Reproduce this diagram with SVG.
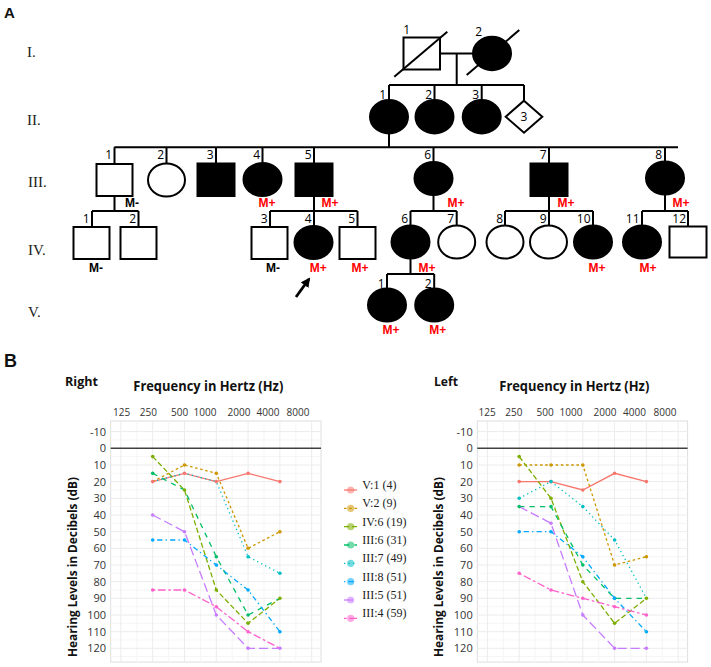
<svg xmlns="http://www.w3.org/2000/svg" width="711" height="667" viewBox="0 0 711 667">
<style>
.ln{stroke:#000;stroke-width:2;fill:none}
.sym{stroke:#000;stroke-width:2}
.f{fill:#000}
.o{fill:#fff}
.num{font-family:"Open Sans","Liberation Sans",sans-serif;font-size:12px;fill:#000;text-anchor:end}
.gen{font-family:"Liberation Serif",serif;font-size:15px;fill:#222}
.mp{font-family:"Liberation Sans",Arial,sans-serif;font-size:12px;font-weight:bold;fill:#ff0000;text-anchor:middle}
.mm{font-family:"Liberation Sans",Arial,sans-serif;font-size:12px;font-weight:bold;fill:#000;text-anchor:middle}
.pl{font-family:"Liberation Sans",Arial,sans-serif;font-weight:bold;fill:#111}
.tick{font-family:"Open Sans","Liberation Sans",sans-serif;font-size:10px;fill:#333;text-anchor:middle}
.yl{font-family:"Open Sans","Liberation Sans",sans-serif;font-size:11px;fill:#333;text-anchor:end}
.ttl{font-family:"Open Sans","Liberation Sans",sans-serif;font-weight:bold;fill:#111}
.leg{font-family:"Liberation Serif",serif;font-size:12px;fill:#222}
.grid{stroke:#ececec;stroke-width:1}
.gridm{stroke:#f5f5f5;stroke-width:1}
.panel{fill:#fff;stroke:#dedede;stroke-width:1}
.zero{stroke:#404040;stroke-width:1.6}
.d{fill:none;stroke-width:1.3}
.s1{stroke:#F8766D}
.s2{stroke:#CD9600;stroke-dasharray:2.6 2.6}
.s3{stroke:#7CAE00;stroke-dasharray:5.2 2.6}
.s4{stroke:#00BE67;stroke-dasharray:5.2 5.2}
.s5{stroke:#00BFC4;stroke-dasharray:1.3 3.2}
.s6{stroke:#00A9FF;stroke-dasharray:1.3 3.2 5.2 3.2}
.s7{stroke:#C77CFF;stroke-dasharray:9.1 3.9}
.s8{stroke:#FF61CC;stroke-dasharray:2.6 2.6 7.8 2.6}
.c1{fill:#F8766D}.c2{fill:#CD9600}.c3{fill:#7CAE00}.c4{fill:#00BE67}
.c5{fill:#00BFC4}.c6{fill:#00A9FF}.c7{fill:#C77CFF}.c8{fill:#FF61CC}
.lk{fill-opacity:0.55}
</style>
<defs>
<marker id="ah" viewBox="0 0 10 10" refX="8" refY="5" markerWidth="3.4" markerHeight="3.4" orient="auto">
<path d="M0,0 L10,5 L0,10 z" fill="#000"/>
</marker>
</defs>

<!-- Panel labels -->
<text class="pl" x="4" y="18" font-size="15">A</text>
<text class="pl" x="4" y="367" font-size="18">B</text>

<!-- Generation labels -->
<text class="gen" x="27" y="57">I.</text>
<text class="gen" x="27" y="125">II.</text>
<text class="gen" x="28" y="187">III.</text>
<text class="gen" x="28" y="255">IV.</text>
<text class="gen" x="28" y="317">V.</text>

<!-- Connectors -->
<g id="connectors" class="ln">
<path d="M440 53.5 H473.5"/>
<path d="M456.7 53.5 V85"/>
<path d="M389 85 H524"/>
<path d="M389 85 V100 M434.5 85 V100 M481.7 85 V100 M524 85 V100.7"/>
<path d="M389 133.3 V147.3"/>
<path d="M114.3 147.3 H678"/>
<path d="M114.5 147.3 V164 M166.5 147.3 V163.5 M216 147.3 V163.5 M262.5 147.3 V163.5 M314 147.3 V163.5 M433.5 147.3 V162 M549 147.3 V163.5 M665 147.3 V161.5"/>
<path d="M114.5 196 V211 M92 211 H138.5 M92 211 V227 M138.5 211 V227"/>
<path d="M314 196.5 V226 M270 211 H357.5 M270 211 V227 M357.5 211 V227"/>
<path d="M433.5 195 V211 M410.5 211 H456.7 M410.5 211 V225.5 M456.7 211 V225.5"/>
<path d="M549 196.5 V225.5 M505 211 H593 M505 211 V225.5 M593 211 V225.5"/>
<path d="M665 195 V211 M642 211 H688 M642 211 V225.5 M688 211 V226"/>
<path d="M410.5 258.5 V274 M387 274 H434.2 M387 274 V288.5 M434.2 274 V288.5"/>
</g>

<!-- Generation I -->
<g id="I-1">
<rect class="sym o" x="403.5" y="37.5" width="36.5" height="32"/>
<path class="ln" d="M394.3 76.7 L447.3 31.7"/>
<text class="num" x="410" y="34">1</text>
</g>
<g id="I-2">
<ellipse class="sym f" cx="492" cy="53.5" rx="19" ry="16.7"/>
<path class="ln" d="M466.7 75 L519.3 30"/>
<text class="num" x="482" y="36">2</text>
</g>

<!-- Generation II -->
<g id="II-1"><ellipse class="sym f" cx="389" cy="116.7" rx="19" ry="16.7"/><text class="num" x="386" y="99">1</text></g>
<g id="II-2"><ellipse class="sym f" cx="434.5" cy="116.7" rx="19" ry="16.7"/><text class="num" x="432" y="99">2</text></g>
<g id="II-3"><ellipse class="sym f" cx="481.7" cy="116.7" rx="19" ry="16.7"/><text class="num" x="479" y="99">3</text></g>
<g id="II-4"><path class="sym o" d="M524 100.7 L542.3 116.7 L524 132.7 L505.7 116.7 z"/><text class="num" x="524" y="121" style="text-anchor:middle">3</text></g>

<!-- Generation III -->
<g id="III-1"><rect class="sym o" x="96.5" y="164" width="36" height="32"/><text class="num" x="112" y="159">1</text><text class="mm" x="132" y="207">M-</text></g>
<g id="III-2"><ellipse class="sym o" cx="166.5" cy="180" rx="18.5" ry="16.5"/><text class="num" x="164" y="159">2</text></g>
<g id="III-3"><rect class="sym f" x="197.5" y="163.5" width="37" height="32.5"/><text class="num" x="213.5" y="159">3</text></g>
<g id="III-4"><ellipse class="sym f" cx="262.5" cy="179.5" rx="19" ry="16.5"/><text class="num" x="260" y="159">4</text><text class="mp" x="267" y="207">M+</text></g>
<g id="III-5"><rect class="sym f" x="295.5" y="163.5" width="37" height="32.5"/><text class="num" x="311.5" y="159">5</text><text class="mp" x="330" y="207">M+</text></g>
<g id="III-6"><ellipse class="sym f" cx="433.5" cy="178.5" rx="19" ry="16.5"/><text class="num" x="431" y="159">6</text><text class="mp" x="456" y="207">M+</text></g>
<g id="III-7"><rect class="sym f" x="530.5" y="163.5" width="37" height="32.5"/><text class="num" x="546.5" y="159">7</text><text class="mp" x="566" y="207">M+</text></g>
<g id="III-8"><ellipse class="sym f" cx="665" cy="178" rx="19" ry="16.5"/><text class="num" x="662" y="159">8</text><text class="mp" x="681" y="207">M+</text></g>

<!-- Generation IV -->
<g id="IV-1"><rect class="sym o" x="73.5" y="227" width="36" height="32"/><text class="num" x="89.5" y="223">1</text><text class="mm" x="96" y="271.5">M-</text></g>
<g id="IV-2"><rect class="sym o" x="120.5" y="227" width="36" height="32"/><text class="num" x="136" y="223">2</text></g>
<g id="IV-3"><rect class="sym o" x="251.5" y="227" width="36" height="32"/><text class="num" x="267.5" y="223">3</text><text class="mm" x="273" y="271.5">M-</text></g>
<g id="IV-4"><ellipse class="sym f" cx="313.5" cy="242.5" rx="19" ry="16.5"/><text class="num" x="311.5" y="223">4</text><text class="mp" x="318.3" y="271.5">M+</text></g>
<g id="IV-5"><rect class="sym o" x="339.5" y="227" width="36" height="32"/><text class="num" x="355" y="223">5</text><text class="mp" x="360" y="271.5">M+</text></g>
<g id="IV-6"><ellipse class="sym f" cx="410.5" cy="242" rx="19" ry="16.5"/><text class="num" x="408" y="223">6</text><text class="mp" x="427" y="271.5">M+</text></g>
<g id="IV-7"><ellipse class="sym o" cx="456.7" cy="242" rx="18.5" ry="16.5"/><text class="num" x="454" y="223">7</text></g>
<g id="IV-8"><ellipse class="sym o" cx="505" cy="242" rx="18.5" ry="16.5"/><text class="num" x="503" y="223">8</text></g>
<g id="IV-9"><ellipse class="sym o" cx="548.5" cy="242" rx="18.5" ry="16.5"/><text class="num" x="546.5" y="223">9</text></g>
<g id="IV-10"><ellipse class="sym f" cx="593" cy="242" rx="19" ry="16.5"/><text class="num" x="590.5" y="223">10</text><text class="mp" x="597" y="271.5">M+</text></g>
<g id="IV-11"><ellipse class="sym f" cx="642" cy="242" rx="19" ry="16.5"/><text class="num" x="639.5" y="223">11</text><text class="mp" x="648" y="271.5">M+</text></g>
<g id="IV-12"><rect class="sym o" x="669.5" y="226.5" width="37" height="31"/><text class="num" x="686" y="223">12</text></g>

<!-- Proband arrow -->
<path d="M296 297 L309 279" stroke="#000" stroke-width="2.8" fill="none" marker-end="url(#ah)"/>

<!-- Generation V -->
<g id="V-1"><ellipse class="sym f" cx="387" cy="305" rx="19" ry="16.5"/><text class="num" x="384.5" y="287.5">1</text><text class="mp" x="391" y="334">M+</text></g>
<g id="V-2"><ellipse class="sym f" cx="434.2" cy="305" rx="19" ry="16.5"/><text class="num" x="431.5" y="287.5">2</text><text class="mp" x="437.7" y="334">M+</text></g>

<!-- ===== Right audiogram ===== -->
<g id="chart-right">
<text class="ttl" x="65" y="386" font-size="13" textLength="33" lengthAdjust="spacingAndGlyphs">Right</text>
<text class="ttl" x="133.3" y="391" font-size="15" textLength="150" lengthAdjust="spacingAndGlyphs">Frequency in Hertz (Hz)</text>
<g class="tick">
<text x="121.7" y="416">125</text><text x="148.3" y="416">250</text><text x="179.7" y="416">500</text><text x="205" y="416">1000</text><text x="239" y="416">2000</text><text x="268" y="416">4000</text><text x="298" y="416">8000</text>
</g>
<rect class="panel" x="110.7" y="421" width="210.3" height="241"/>
<g class="gridm">
<path d="M136.8 421V662 M168.6 421V662 M200.4 421V662 M232.2 421V662 M264 421V662 M295.8 421V662"/>
<path d="M110.7 440H321 M110.7 456.6H321 M110.7 473.3H321 M110.7 490H321 M110.7 506.6H321 M110.7 523.3H321 M110.7 540H321 M110.7 556.7H321 M110.7 573.3H321 M110.7 590H321 M110.7 606.7H321 M110.7 623.3H321 M110.7 640H321 M110.7 656.6H321"/>
</g>
<g class="grid">
<path d="M120.9 421V662 M152.7 421V662 M184.5 421V662 M216.3 421V662 M248.1 421V662 M279.9 421V662 M311.7 421V662"/>
<path d="M110.7 431.6H321 M110.7 465H321 M110.7 481.6H321 M110.7 498.3H321 M110.7 515H321 M110.7 531.7H321 M110.7 548.3H321 M110.7 565H321 M110.7 581.7H321 M110.7 598.3H321 M110.7 615H321 M110.7 631.7H321 M110.7 648.3H321"/>
</g>
<path class="zero" d="M110.7 448.3H321"/>
<g class="yl">
<text x="106" y="435.6">-10</text><text x="106" y="452.3">0</text><text x="106" y="469">10</text><text x="106" y="485.6">20</text><text x="106" y="502.3">30</text><text x="106" y="519">40</text><text x="106" y="535.7">50</text><text x="106" y="552.3">60</text><text x="106" y="569">70</text><text x="106" y="585.7">80</text><text x="106" y="602.3">90</text><text x="106" y="619">100</text><text x="106" y="635.7">110</text><text x="106" y="652.3">120</text>
</g>
<text class="ttl" transform="translate(76.5,567) rotate(-90)" x="0" y="0" font-size="12" text-anchor="middle" textLength="180" lengthAdjust="spacingAndGlyphs">Hearing Levels in Decibels (dB)</text>
<g id="right-series">
<polyline class="d s1" points="152.7,481.6 184.5,473.3 216.3,481.6 248.1,473.3 279.9,481.6"/>
<polyline class="d s2" points="152.7,481.6 184.5,465 216.3,473.3 248.1,548.3 279.9,531.7"/>
<polyline class="d s3" points="152.7,456.6 184.5,490 216.3,590 248.1,623.3 279.9,598.3"/>
<polyline class="d s4" points="152.7,473.3 184.5,490 216.3,556.7 248.1,615 279.9,598.3"/>
<polyline class="d s5" points="152.7,481.6 184.5,473.3 216.3,481.6 248.1,556.7 279.9,573.3"/>
<polyline class="d s6" points="152.7,540 184.5,540 216.3,565 248.1,590 279.9,631.7"/>
<polyline class="d s7" points="152.7,515 184.5,531.7 216.3,615 248.1,648.3 279.9,648.3"/>
<polyline class="d s8" points="152.7,590 184.5,590 216.3,606.7 248.1,631.7 279.9,648.3"/>
<g class="c1"><circle cx="152.7" cy="481.6" r="1.8"/><circle cx="184.5" cy="473.3" r="1.8"/><circle cx="216.3" cy="481.6" r="1.8"/><circle cx="248.1" cy="473.3" r="1.8"/><circle cx="279.9" cy="481.6" r="1.8"/></g>
<g class="c2"><circle cx="184.5" cy="465" r="1.8"/><circle cx="216.3" cy="473.3" r="1.8"/><circle cx="248.1" cy="548.3" r="1.8"/><circle cx="279.9" cy="531.7" r="1.8"/></g>
<g class="c3"><circle cx="152.7" cy="456.6" r="1.8"/><circle cx="184.5" cy="490" r="1.8"/><circle cx="216.3" cy="590" r="1.8"/><circle cx="248.1" cy="623.3" r="1.8"/><circle cx="279.9" cy="598.3" r="1.8"/></g>
<g class="c4"><circle cx="152.7" cy="473.3" r="1.8"/><circle cx="216.3" cy="556.7" r="1.8"/><circle cx="248.1" cy="615" r="1.8"/></g>
<g class="c5"><circle cx="248.1" cy="556.7" r="1.8"/><circle cx="279.9" cy="573.3" r="1.8"/></g>
<g class="c6"><circle cx="152.7" cy="540" r="1.8"/><circle cx="184.5" cy="540" r="1.8"/><circle cx="216.3" cy="565" r="1.8"/><circle cx="248.1" cy="590" r="1.8"/><circle cx="279.9" cy="631.7" r="1.8"/></g>
<g class="c7"><circle cx="152.7" cy="515" r="1.8"/><circle cx="184.5" cy="531.7" r="1.8"/><circle cx="216.3" cy="615" r="1.8"/><circle cx="248.1" cy="648.3" r="1.8"/><circle cx="279.9" cy="648.3" r="1.8"/></g>
<g class="c8"><circle cx="152.7" cy="590" r="1.8"/><circle cx="184.5" cy="590" r="1.8"/><circle cx="216.3" cy="606.7" r="1.8"/><circle cx="248.1" cy="631.7" r="1.8"/></g>
</g>
</g>

<!-- ===== Legend ===== -->
<g id="legend">
<path class="d s1" d="M344 490H357"/><circle class="c1 lk" cx="350.7" cy="490" r="3.6"/><text class="leg" x="362.3" y="489">V:1 (4)</text>
<path class="d s2" d="M344 508.3H357"/><circle class="c2 lk" cx="350.7" cy="508.3" r="3.6"/><text class="leg" x="362.3" y="507.3">V:2 (9)</text>
<path class="d s3" d="M344 526.7H357"/><circle class="c3 lk" cx="350.7" cy="526.7" r="3.6"/><text class="leg" x="362.3" y="525.7">IV:6 (19)</text>
<path class="d s4" d="M344 545H357"/><circle class="c4 lk" cx="350.7" cy="545" r="3.6"/><text class="leg" x="362.3" y="544">III:6 (31)</text>
<path class="d s5" d="M344 563.3H357"/><circle class="c5 lk" cx="350.7" cy="563.3" r="3.6"/><text class="leg" x="362.3" y="562.3">III:7 (49)</text>
<path class="d s6" d="M344 581.7H357"/><circle class="c6 lk" cx="350.7" cy="581.7" r="3.6"/><text class="leg" x="362.3" y="580.7">III:8 (51)</text>
<path class="d s7" d="M344 600H357"/><circle class="c7 lk" cx="350.7" cy="600" r="3.6"/><text class="leg" x="362.3" y="599">III:5 (51)</text>
<path class="d s8" d="M344 618.3H357"/><circle class="c8 lk" cx="350.7" cy="618.3" r="3.6"/><text class="leg" x="362.3" y="617.3">III:4 (59)</text>
</g>

<!-- ===== Left audiogram ===== -->
<g id="chart-left">
<text class="ttl" x="434" y="386" font-size="13" textLength="24" lengthAdjust="spacingAndGlyphs">Left</text>
<text class="ttl" x="499.3" y="391" font-size="15" textLength="150" lengthAdjust="spacingAndGlyphs">Frequency in Hertz (Hz)</text>
<g class="tick">
<text x="487.2" y="416">125</text><text x="513.8" y="416">250</text><text x="545.2" y="416">500</text><text x="571" y="416">1000</text><text x="605" y="416">2000</text><text x="634.5" y="416">4000</text><text x="665" y="416">8000</text>
</g>
<rect class="panel" x="477.3" y="421" width="210.3" height="241"/>
<g class="gridm">
<path d="M503.3 421V662 M535.1 421V662 M566.9 421V662 M598.7 421V662 M630.5 421V662 M662.3 421V662"/>
<path d="M477.3 440H687.6 M477.3 456.6H687.6 M477.3 473.3H687.6 M477.3 490H687.6 M477.3 506.6H687.6 M477.3 523.3H687.6 M477.3 540H687.6 M477.3 556.7H687.6 M477.3 573.3H687.6 M477.3 590H687.6 M477.3 606.7H687.6 M477.3 623.3H687.6 M477.3 640H687.6 M477.3 656.6H687.6"/>
</g>
<g class="grid">
<path d="M487.4 421V662 M519.2 421V662 M551 421V662 M582.8 421V662 M614.6 421V662 M646.4 421V662 M678.2 421V662"/>
<path d="M477.3 431.6H687.6 M477.3 465H687.6 M477.3 481.6H687.6 M477.3 498.3H687.6 M477.3 515H687.6 M477.3 531.7H687.6 M477.3 548.3H687.6 M477.3 565H687.6 M477.3 581.7H687.6 M477.3 598.3H687.6 M477.3 615H687.6 M477.3 631.7H687.6 M477.3 648.3H687.6"/>
</g>
<path class="zero" d="M477.3 448.3H687.6"/>
<g class="yl">
<text x="472.7" y="435.6">-10</text><text x="472.7" y="452.3">0</text><text x="472.7" y="469">10</text><text x="472.7" y="485.6">20</text><text x="472.7" y="502.3">30</text><text x="472.7" y="519">40</text><text x="472.7" y="535.7">50</text><text x="472.7" y="552.3">60</text><text x="472.7" y="569">70</text><text x="472.7" y="585.7">80</text><text x="472.7" y="602.3">90</text><text x="472.7" y="619">100</text><text x="472.7" y="635.7">110</text><text x="472.7" y="652.3">120</text>
</g>
<text class="ttl" transform="translate(443,567) rotate(-90)" x="0" y="0" font-size="12" text-anchor="middle" textLength="180" lengthAdjust="spacingAndGlyphs">Hearing Levels in Decibels (dB)</text>
<g id="left-series">
<polyline class="d s1" points="519.2,481.6 551,481.6 582.8,490 614.6,473.3 646.4,481.6"/>
<polyline class="d s2" points="519.2,465 551,465 582.8,465 614.6,565 646.4,556.7"/>
<polyline class="d s3" points="519.2,456.6 551,498.3 582.8,581.7 614.6,623.3 646.4,598.3"/>
<polyline class="d s4" points="519.2,506.6 551,506.6 582.8,565 614.6,598.3 646.4,598.3"/>
<polyline class="d s5" points="519.2,498.3 551,481.6 582.8,506.6 614.6,540 646.4,598.3"/>
<polyline class="d s6" points="519.2,531.7 551,531.7 582.8,556.7 614.6,598.3 646.4,631.7"/>
<polyline class="d s7" points="519.2,506.6 551,523.3 582.8,615 614.6,648.3 646.4,648.3"/>
<polyline class="d s8" points="519.2,573.3 551,590 582.8,598.3 614.6,606.7 646.4,615"/>
<g class="c1"><circle cx="519.2" cy="481.6" r="1.8"/><circle cx="551" cy="481.6" r="1.8"/><circle cx="582.8" cy="490" r="1.8"/><circle cx="614.6" cy="473.3" r="1.8"/><circle cx="646.4" cy="481.6" r="1.8"/></g>
<g class="c2"><circle cx="519.2" cy="465" r="1.8"/><circle cx="551" cy="465" r="1.8"/><circle cx="582.8" cy="465" r="1.8"/><circle cx="614.6" cy="565" r="1.8"/><circle cx="646.4" cy="556.7" r="1.8"/></g>
<g class="c3"><circle cx="519.2" cy="456.6" r="1.8"/><circle cx="551" cy="498.3" r="1.8"/><circle cx="582.8" cy="581.7" r="1.8"/><circle cx="614.6" cy="623.3" r="1.8"/><circle cx="646.4" cy="598.3" r="1.8"/></g>
<g class="c4"><circle cx="519.2" cy="506.6" r="1.8"/><circle cx="551" cy="506.6" r="1.8"/><circle cx="582.8" cy="565" r="1.8"/><circle cx="614.6" cy="598.3" r="1.8"/></g>
<g class="c5"><circle cx="519.2" cy="498.3" r="1.8"/><circle cx="551" cy="481.6" r="1.8"/><circle cx="582.8" cy="506.6" r="1.8"/><circle cx="614.6" cy="540" r="1.8"/></g>
<g class="c6"><circle cx="519.2" cy="531.7" r="1.8"/><circle cx="551" cy="531.7" r="1.8"/><circle cx="582.8" cy="556.7" r="1.8"/><circle cx="614.6" cy="598.3" r="1.8"/><circle cx="646.4" cy="631.7" r="1.8"/></g>
<g class="c7"><circle cx="551" cy="523.3" r="1.8"/><circle cx="582.8" cy="615" r="1.8"/><circle cx="614.6" cy="648.3" r="1.8"/><circle cx="646.4" cy="648.3" r="1.8"/></g>
<g class="c8"><circle cx="519.2" cy="573.3" r="1.8"/><circle cx="551" cy="590" r="1.8"/><circle cx="582.8" cy="598.3" r="1.8"/><circle cx="614.6" cy="606.7" r="1.8"/><circle cx="646.4" cy="615" r="1.8"/></g>
</g>
</g>
</svg>
